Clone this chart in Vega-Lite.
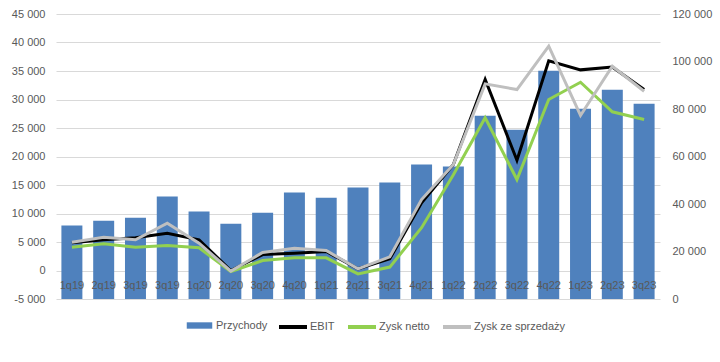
{
  "$schema": "https://vega.github.io/schema/vega-lite/v6.json",
  "width": 604,
  "height": 285,
  "autosize": "none",
  "padding": {"left": 56, "top": 14, "right": 60, "bottom": 63},
  "background": "white",
  "config": {
    "locale": {"number": {"decimal": ",", "thousands": " ", "grouping": [3], "currency": ["", ""], "minus": "-"}},
    "font": "Liberation Sans",
    "view": {"stroke": null},
    "axis": {"labelColor": "#595959", "labelFontSize": 11, "domain": false, "ticks": false, "title": null},
    "legend": {"labelColor": "#595959", "labelFontSize": 11, "title": null, "padding": 0}
  },
  "data": {
    "values": [
      {"q": "1q19", "Przychody": 30900, "EBIT": 4860, "Zysk netto": 4090, "Zysk ze sprzedaży": 4960},
      {"q": "2q19", "Przychody": 33000, "EBIT": 5380, "Zysk netto": 4680, "Zysk ze sprzedaży": 5840},
      {"q": "3q19", "Przychody": 34200, "EBIT": 5740, "Zysk netto": 4090, "Zysk ze sprzedaży": 5380},
      {"q": "4q19", "Przychody": 43200, "EBIT": 6540, "Zysk netto": 4390, "Zysk ze sprzedaży": 8300},
      {"q": "1q20", "Przychody": 36800, "EBIT": 5380, "Zysk netto": 3980, "Zysk ze sprzedaży": 4790},
      {"q": "2q20", "Przychody": 31700, "EBIT": 0, "Zysk netto": -200, "Zysk ze sprzedaży": -100},
      {"q": "3q20", "Przychody": 36300, "EBIT": 2800, "Zysk netto": 1750, "Zysk ze sprzedaży": 3160},
      {"q": "4q20", "Przychody": 44800, "EBIT": 3030, "Zysk netto": 2230, "Zysk ze sprzedaży": 3910},
      {"q": "1q21", "Przychody": 42600, "EBIT": 3330, "Zysk netto": 2230, "Zysk ze sprzedaży": 3500},
      {"q": "2q21", "Przychody": 47000, "EBIT": 300, "Zysk netto": -600, "Zysk ze sprzedaży": 300},
      {"q": "3q21", "Przychody": 49100, "EBIT": 2050, "Zysk netto": 600, "Zysk ze sprzedaży": 2400},
      {"q": "4q21", "Przychody": 56600, "EBIT": 11900, "Zysk netto": 7500, "Zysk ze sprzedaży": 12450},
      {"q": "1q22", "Przychody": 55800, "EBIT": 18600, "Zysk netto": 16800, "Zysk ze sprzedaży": 18600},
      {"q": "2q22", "Przychody": 77200, "EBIT": 33500, "Zysk netto": 26800, "Zysk ze sprzedaży": 32750},
      {"q": "3q22", "Przychody": 71300, "EBIT": 19350, "Zysk netto": 15960, "Zysk ze sprzedaży": 31750},
      {"q": "4q22", "Przychody": 96100, "EBIT": 36800, "Zysk netto": 30000, "Zysk ze sprzedaży": 39350},
      {"q": "1q23", "Przychody": 80100, "EBIT": 35200, "Zysk netto": 33030, "Zysk ze sprzedaży": 27200},
      {"q": "2q23", "Przychody": 88100, "EBIT": 35700, "Zysk netto": 27840, "Zysk ze sprzedaży": 35830},
      {"q": "3q23", "Przychody": 82200, "EBIT": 31750, "Zysk netto": 26490, "Zysk ze sprzedaży": 31450}
    ]
  },
  "encoding": {
    "x": {
      "field": "q", "type": "nominal", "sort": null,
      "scale": {"paddingInner": 0.34, "paddingOuter": 0.17},
      "axis": {"labelAngle": 0, "labelPadding": -14, "labelBaseline": "middle", "zindex": 1, "labelExpr": "datum.value == '4q19' ? '3q19' : datum.value", "title": null}
    }
  },
  "layer": [
    {
      "mark": {"type": "bar", "color": "#4F81BD"},
      "encoding": {
        "y": {
          "field": "Przychody", "type": "quantitative",
          "scale": {"domain": [0, 120000], "nice": false},
          "axis": {"orient": "right", "values": [0, 20000, 40000, 60000, 80000, 100000, 120000], "grid": false, "format": ",d", "labelPadding": 12}
        },
        "fill": {
          "datum": "Przychody",
          "scale": {"domain": ["Przychody"], "range": ["#4F81BD"]},
          "legend": {"orient": "none", "legendX": 130, "legendY": 298, "symbolType": "M-1,-0.25H1V0.25H-1Z", "symbolSize": 650, "labelOffset": 3}
        }
      }
    },
    {
      "transform": [{"fold": ["EBIT", "Zysk netto", "Zysk ze sprzedaży"], "as": ["series", "value"]}],
      "mark": {"type": "line", "strokeWidth": 3},
      "encoding": {
        "y": {
          "field": "value", "type": "quantitative",
          "scale": {"domain": [-5000, 45000], "nice": false},
          "axis": {"orient": "left", "values": [-5000, 0, 5000, 10000, 15000, 20000, 25000, 30000, 35000, 40000, 45000], "grid": true, "gridColor": "#D9D9D9", "format": ",d", "labelPadding": 11}
        },
        "stroke": {
          "field": "series", "type": "nominal",
          "scale": {"domain": ["EBIT", "Zysk netto", "Zysk ze sprzedaży"], "range": ["#000000", "#92D050", "#BFBFBF"]},
          "legend": {"orient": "none", "direction": "horizontal", "legendX": 221, "legendY": 297, "symbolType": "stroke", "symbolSize": 784, "symbolStrokeWidth": 4, "columnPadding": 5, "labelOffset": 1}
        }
      }
    }
  ],
  "resolve": {"scale": {"y": "independent"}}
}
